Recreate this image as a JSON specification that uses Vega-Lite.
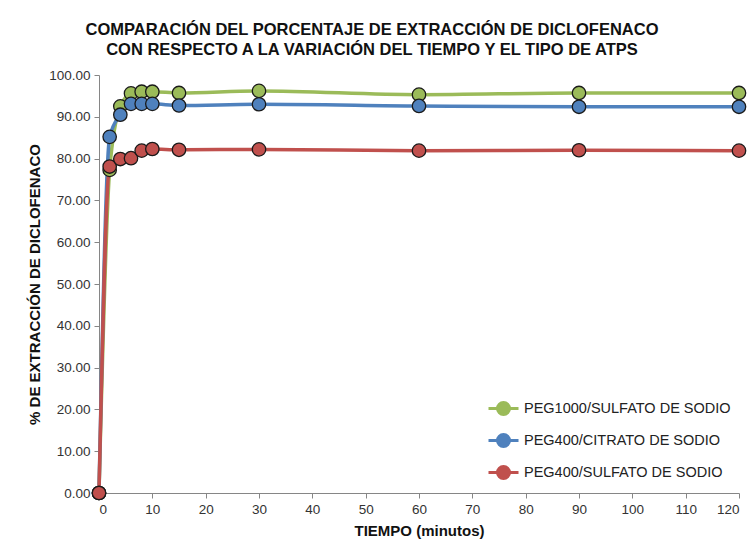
{
  "$schema": "https://vega.github.io/schema/vega-lite/v6.json",
  "width": 640,
  "height": 418,
  "autosize": {"type": "none"},
  "padding": {"left": 99, "top": 75, "right": 14, "bottom": 67},
  "background": "white",
  "config": {
    "font": "Liberation Sans",
    "view": {"stroke": null}
  },
  "title": {
    "text": ["COMPARACIÓN  DEL PORCENTAJE DE EXTRACCIÓN DE DICLOFENACO", "CON RESPECTO A LA VARIACIÓN  DEL TIEMPO Y EL TIPO DE ATPS"],
    "font": "Liberation Sans Narrow, Liberation Sans",
    "fontSize": 16.5,
    "fontWeight": "bold",
    "color": "#111111",
    "lineHeight": 20,
    "anchor": "middle",
    "dx": -47,
    "offset": 10
  },
  "data": {
    "values": [
      {"t": 0, "s": "PEG1000/SULFATO DE SODIO", "v": 0},
      {"t": 2, "s": "PEG1000/SULFATO DE SODIO", "v": 77.3},
      {"t": 4, "s": "PEG1000/SULFATO DE SODIO", "v": 92.5},
      {"t": 6, "s": "PEG1000/SULFATO DE SODIO", "v": 95.6},
      {"t": 8, "s": "PEG1000/SULFATO DE SODIO", "v": 96.0},
      {"t": 10, "s": "PEG1000/SULFATO DE SODIO", "v": 96.0},
      {"t": 15, "s": "PEG1000/SULFATO DE SODIO", "v": 95.7},
      {"t": 30, "s": "PEG1000/SULFATO DE SODIO", "v": 96.2},
      {"t": 60, "s": "PEG1000/SULFATO DE SODIO", "v": 95.3},
      {"t": 90, "s": "PEG1000/SULFATO DE SODIO", "v": 95.7},
      {"t": 120, "s": "PEG1000/SULFATO DE SODIO", "v": 95.7},
      {"t": 0, "s": "PEG400/CITRATO DE SODIO", "v": 0},
      {"t": 2, "s": "PEG400/CITRATO DE SODIO", "v": 85.2},
      {"t": 4, "s": "PEG400/CITRATO DE SODIO", "v": 90.5},
      {"t": 6, "s": "PEG400/CITRATO DE SODIO", "v": 93.1},
      {"t": 8, "s": "PEG400/CITRATO DE SODIO", "v": 93.1},
      {"t": 10, "s": "PEG400/CITRATO DE SODIO", "v": 93.1},
      {"t": 15, "s": "PEG400/CITRATO DE SODIO", "v": 92.7},
      {"t": 30, "s": "PEG400/CITRATO DE SODIO", "v": 93.0},
      {"t": 60, "s": "PEG400/CITRATO DE SODIO", "v": 92.6},
      {"t": 90, "s": "PEG400/CITRATO DE SODIO", "v": 92.4},
      {"t": 120, "s": "PEG400/CITRATO DE SODIO", "v": 92.4},
      {"t": 0, "s": "PEG400/SULFATO DE SODIO", "v": 0},
      {"t": 2, "s": "PEG400/SULFATO DE SODIO", "v": 78.1},
      {"t": 4, "s": "PEG400/SULFATO DE SODIO", "v": 79.9},
      {"t": 6, "s": "PEG400/SULFATO DE SODIO", "v": 80.1},
      {"t": 8, "s": "PEG400/SULFATO DE SODIO", "v": 81.9},
      {"t": 10, "s": "PEG400/SULFATO DE SODIO", "v": 82.3},
      {"t": 15, "s": "PEG400/SULFATO DE SODIO", "v": 82.1},
      {"t": 30, "s": "PEG400/SULFATO DE SODIO", "v": 82.2},
      {"t": 60, "s": "PEG400/SULFATO DE SODIO", "v": 81.9},
      {"t": 90, "s": "PEG400/SULFATO DE SODIO", "v": 82.0},
      {"t": 120, "s": "PEG400/SULFATO DE SODIO", "v": 81.9}
    ]
  },
  "encoding": {
    "x": {
      "field": "t",
      "type": "quantitative",
      "scale": {"domain": [0, 120], "nice": false, "zero": false},
      "axis": {
        "title": "TIEMPO (minutos)",
        "values": [0, 10, 20, 30, 40, 50, 60, 70, 80, 90, 100, 110, 120],
        "grid": false,
        "domainColor": "#868686",
        "tickColor": "#868686",
        "tickSize": 5,
        "labelFontSize": 13.5,
        "labelColor": "#333333",
        "labelPadding": 4,
        "titleFontSize": 15,
        "titleFontWeight": "bold",
        "titleColor": "#111111",
        "titlePadding": 8
      }
    },
    "y": {
      "field": "v",
      "type": "quantitative",
      "scale": {"domain": [0, 100], "nice": false},
      "axis": {
        "title": "% DE EXTRACCIÓN DE DICLOFENACO",
        "values": [0, 10, 20, 30, 40, 50, 60, 70, 80, 90, 100],
        "format": ".2f",
        "grid": false,
        "domainColor": "#868686",
        "tickColor": "#868686",
        "tickSize": 5,
        "labelFontSize": 13.5,
        "labelColor": "#333333",
        "labelPadding": 4,
        "titleFontSize": 15,
        "titleFontWeight": "bold",
        "titleColor": "#111111",
        "titlePadding": 6
      }
    },
    "color": {
      "field": "s",
      "type": "nominal",
      "scale": {
        "domain": ["PEG1000/SULFATO DE SODIO", "PEG400/CITRATO DE SODIO", "PEG400/SULFATO DE SODIO"],
        "range": ["#9BBB59", "#4F81BD", "#C0504D"]
      },
      "legend": {
        "title": null,
        "orient": "bottom-right",
        "offset": 8,
        "symbolType": "M-1,0H1M0.4,0A0.4,0.4,0,1,1,-0.4,0A0.4,0.4,0,1,1,0.4,0Z",
        "symbolSize": 900,
        "symbolStrokeWidth": 3,
        "symbolOpacity": 1,
        "labelFontSize": 14.5,
        "labelColor": "#222222",
        "labelLimit": 300,
        "labelOffset": 4,
        "rowPadding": 3
      }
    }
  },
  "layer": [
    {
      "mark": {"type": "line", "interpolate": "monotone", "strokeWidth": 3.5}
    },
    {
      "mark": {"type": "point", "filled": true, "size": 180, "opacity": 1, "stroke": "#1a1a1a", "strokeWidth": 1.3},
      "encoding": {
        "fill": {"field": "s", "type": "nominal", "scale": {"domain": ["PEG1000/SULFATO DE SODIO", "PEG400/CITRATO DE SODIO", "PEG400/SULFATO DE SODIO"], "range": ["#9BBB59", "#4F81BD", "#C0504D"]}, "legend": null},
        "color": {"value": "#1a1a1a"}
      }
    }
  ]
}
